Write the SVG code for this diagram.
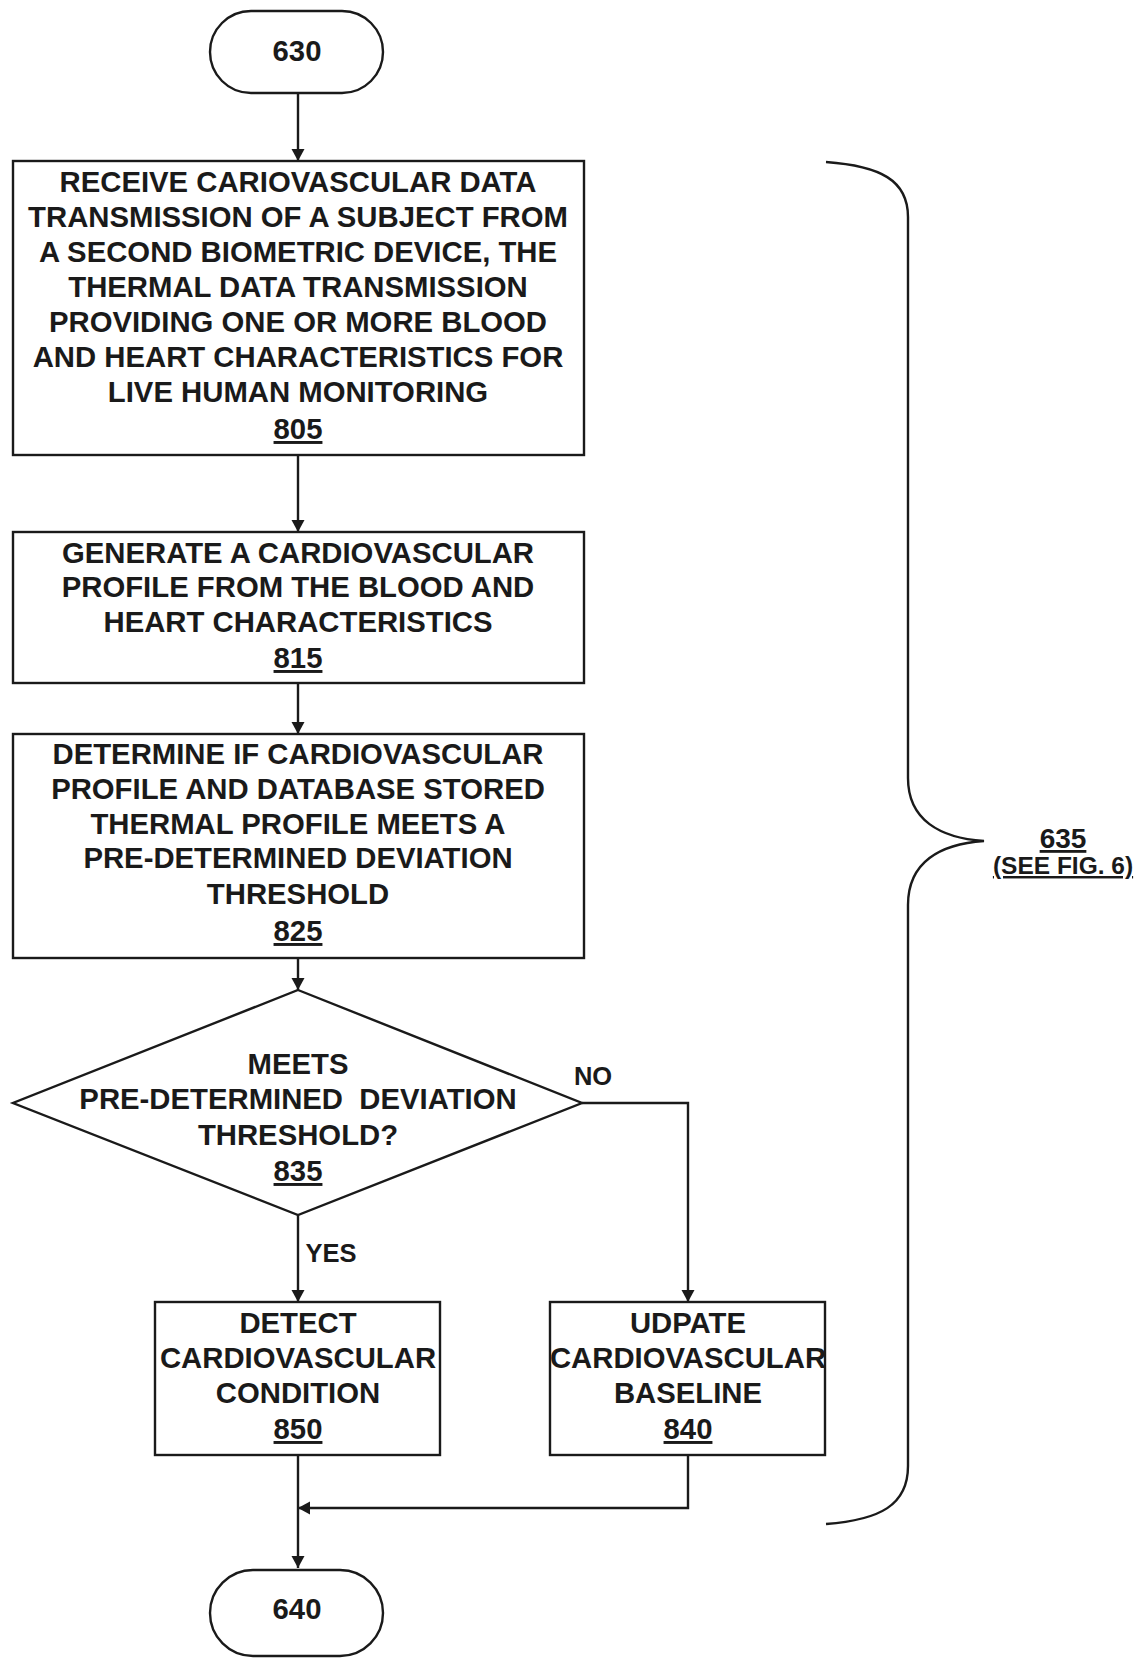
<svg xmlns="http://www.w3.org/2000/svg" width="1140" height="1659" viewBox="0 0 1140 1659">
<style>
  .shape { fill: #fff; stroke: #1a1a1a; stroke-width: 2.4; }
  .conn { fill: none; stroke: #1a1a1a; stroke-width: 2.4; }
  .t { font-family: "Liberation Sans", Arial, Helvetica, sans-serif; font-weight: bold; font-size: 29.3px; fill: #1a1a1a; text-anchor: middle; }
  .u { text-decoration: underline; }
  .s { font-size: 25.5px; }
</style>
<defs>
  <marker id="arr" viewBox="0 0 12 16" refX="12" refY="8" markerWidth="12" markerHeight="16" markerUnits="userSpaceOnUse" orient="auto">
    <path d="M0,1.5 L12,8 L0,14.5 Z" fill="#1a1a1a"/>
  </marker>
</defs>
<rect width="1140" height="1659" fill="#fff"/>

<g id="connectors">
  <path class="conn" d="M298,93 L298,161" marker-end="url(#arr)"/>
  <path class="conn" d="M298,455 L298,532" marker-end="url(#arr)"/>
  <path class="conn" d="M298,683 L298,734" marker-end="url(#arr)"/>
  <path class="conn" d="M298,958 L298,990" marker-end="url(#arr)"/>
  <path class="conn" d="M298,1215 L298,1302" marker-end="url(#arr)"/>
  <path class="conn" d="M582,1103 L688,1103 L688,1302" marker-end="url(#arr)"/>
  <path class="conn" d="M688,1455 L688,1508 L298,1508" marker-end="url(#arr)"/>
  <path class="conn" d="M298,1455 L298,1568" marker-end="url(#arr)"/>
  <text class="t s" x="593" y="1085">NO</text>
  <text class="t s" x="331" y="1262">YES</text>
</g>

<g id="n630">
  <rect class="shape" x="210" y="11" width="173" height="82" rx="41" ry="41"/>
  <text class="t" x="297" y="61">630</text>
</g>

<g id="n805">
  <rect class="shape" x="13" y="161" width="571" height="294"/>
  <text class="t" x="298" y="192">RECEIVE CARIOVASCULAR DATA</text>
  <text class="t" x="298" y="227">TRANSMISSION OF A SUBJECT FROM</text>
  <text class="t" x="298" y="262">A SECOND BIOMETRIC DEVICE, THE</text>
  <text class="t" x="298" y="297">THERMAL DATA TRANSMISSION</text>
  <text class="t" x="298" y="332">PROVIDING ONE OR MORE BLOOD</text>
  <text class="t" x="298" y="367">AND HEART CHARACTERISTICS FOR</text>
  <text class="t" x="298" y="402">LIVE HUMAN MONITORING</text>
  <text class="t u" x="298" y="439">805</text>
</g>

<g id="n815">
  <rect class="shape" x="13" y="532" width="571" height="151"/>
  <text class="t" x="298" y="563">GENERATE A CARDIOVASCULAR</text>
  <text class="t" x="298" y="597">PROFILE FROM THE BLOOD AND</text>
  <text class="t" x="298" y="632">HEART CHARACTERISTICS</text>
  <text class="t u" x="298" y="668">815</text>
</g>

<g id="n825">
  <rect class="shape" x="13" y="734" width="571" height="224"/>
  <text class="t" x="298" y="764">DETERMINE IF CARDIOVASCULAR</text>
  <text class="t" x="298" y="799">PROFILE AND DATABASE STORED</text>
  <text class="t" x="298" y="834">THERMAL PROFILE MEETS A</text>
  <text class="t" x="298" y="868">PRE-DETERMINED DEVIATION</text>
  <text class="t" x="298" y="904">THRESHOLD</text>
  <text class="t u" x="298" y="941">825</text>
</g>

<g id="n835">
  <path class="shape" d="M298,990 L582,1103 L298,1215 L13,1103 Z"/>
  <text class="t" x="298" y="1074">MEETS</text>
  <text class="t" x="298" y="1109" xml:space="preserve">PRE-DETERMINED  DEVIATION</text>
  <text class="t" x="298" y="1145">THRESHOLD?</text>
  <text class="t u" x="298" y="1181">835</text>
</g>

<g id="n850">
  <rect class="shape" x="155" y="1302" width="285" height="153"/>
  <text class="t" x="298" y="1333">DETECT</text>
  <text class="t" x="298" y="1368">CARDIOVASCULAR</text>
  <text class="t" x="298" y="1403">CONDITION</text>
  <text class="t u" x="298" y="1439">850</text>
</g>

<g id="n840">
  <rect class="shape" x="550" y="1302" width="275" height="153"/>
  <text class="t" x="688" y="1333">UDPATE</text>
  <text class="t" x="688" y="1368">CARDIOVASCULAR</text>
  <text class="t" x="688" y="1403">BASELINE</text>
  <text class="t u" x="688" y="1439">840</text>
</g>

<g id="n640">
  <rect class="shape" x="210" y="1570" width="173" height="86" rx="43" ry="43"/>
  <text class="t" x="297" y="1619">640</text>
</g>

<g id="n635">
  <path class="conn" d="M826,162 C880,166 908,180 908,217 L908,778 C908,820 940,838 984,841 C940,844 908,862 908,905 L908,1466 C908,1505 880,1520 826,1524"/>
  <text class="t u" style="font-size:28px" x="1063" y="848">635</text>
  <text class="t u" style="font-size:24.5px" x="1063" y="874">(SEE FIG. 6)</text>
</g>
</svg>
